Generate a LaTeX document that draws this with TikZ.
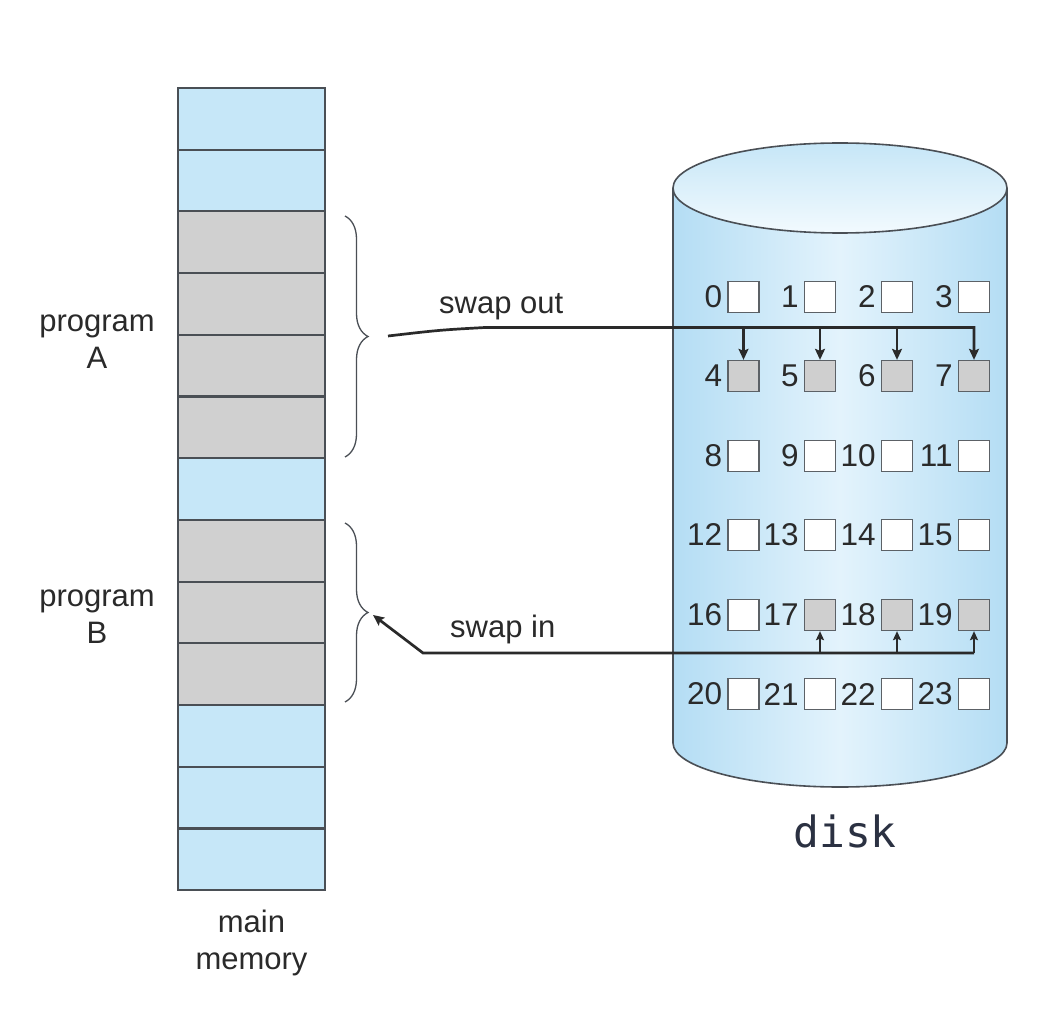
\documentclass[tikz,border=0pt]{standalone}
\usepackage{fontspec}
\setmainfont{Liberation Sans}
\newfontfamily\diskfont{DejaVu Sans Mono}
\usetikzlibrary{arrows.meta,decorations.pathreplacing,calc}
\definecolor{memblue}{HTML}{C6E7F8}
\definecolor{memgray}{HTML}{D0D0D0}
\definecolor{edge}{HTML}{4A4F55}
\definecolor{cylside}{HTML}{B4DDF4}
\definecolor{cylmid}{HTML}{E3F3FC}
\definecolor{cyltop}{HTML}{C6E6F7}
\definecolor{cyltopb}{HTML}{F2FAFE}
\definecolor{boxgray}{HTML}{CFCFCF}
\definecolor{ink}{HTML}{2A2A2A}
\definecolor{diskink}{HTML}{2B3142}
\begin{document}
\begin{tikzpicture}[x=1pt,y=-1pt,
  memcell/.style={minimum width=147pt,minimum height=61.7pt,inner sep=0pt},
  memedge/.style={draw=edge,line width=1.8pt},
  dbox/.style={draw=edge!90,line width=1.3pt,minimum width=31pt,minimum height=31pt,inner sep=0pt},
  dnum/.style={font=\fontsize{31.5}{36}\selectfont,text=ink,inner sep=0pt,anchor=east},
  lbl/.style={font=\fontsize{31}{37}\selectfont,text=ink,align=center,inner sep=0pt},
  cyl/.style={draw=edge,line width=1.6pt},
  bracestyle/.style={draw=edge,line width=1.3pt,decorate,decoration={brace,amplitude=23pt}},
  swapline/.style={draw=ink,line width=2.7pt},
  branch/.style={draw=ink,line width=2.1pt},
  bigtip/.style={-{Stealth[length=11pt,width=10pt,inset=2pt]}},
  smalltip/.style={-{Stealth[length=9pt,width=8pt,inset=1.5pt]}}
]
\useasboundingbox (0,0) rectangle (1060,1024);
\fill[white] (0,0) rectangle (1060,1024);

% main memory
\foreach \i/\c in {0/memblue,1/memblue,2/memgray,3/memgray,4/memgray,5/memgray,6/memblue,7/memgray,8/memgray,9/memgray,10/memblue,11/memblue,12/memblue}{
  \node[memcell,fill=\c] (m\i) at (251.5,{88+61.7*(\i+0.5)}) {};
}
\foreach \i in {0,...,12}{
  \draw[memedge] (m\i.north west) rectangle (m\i.south east);
}

% disk cylinder
\fill[left color=cylside,right color=cylside,middle color=cylmid]
  (673,188) -- (673,743) arc[start angle=180,end angle=360,x radius=167pt,y radius=44pt] -- (1007,188) -- cycle;
\draw[cyl] (673,188) -- (673,743) arc[start angle=180,end angle=360,x radius=167pt,y radius=44pt] -- (1007,188);
\draw[cyl,top color=cyltop,bottom color=cyltopb] (840,188) ellipse [x radius=167pt,y radius=45pt];

% disk blocks
\foreach \r/\yy in {0/297,1/376,2/456,3/535,4/615,5/694}{
  \foreach \cc/\xx in {0/743.5,1/820,2/897,3/974}{
    \pgfmathtruncatemacro{\n}{4*\r+\cc}
    \node[dbox,fill=white] (b\n) at (\xx,\yy) {};
    \node[dnum] (n\n) at ($(b\n.west)+(-5,0)$) {\n};
  }
}
\foreach \k in {4,5,6,7,17,18,19}{
  \node[dbox,fill=boxgray] at (b\k) {};
}

% braces
\draw[bracestyle] (345,216) -- (345,457);
\draw[bracestyle] (345,523) -- (345,702);

% labels
\node[lbl] (pa) at (97,342) {program\\A};
\node[lbl] (pb) at (97,617) {program\\B};
\node[lbl] (mm) at (251.5,943) {main\\memory};
\node[lbl,anchor=base west] (so) at (439,313) {swap out};
\node[lbl,anchor=base west] (si) at (450,637) {swap in};
\node[font=\diskfont\fontsize{43}{50}\selectfont,text=diskink,anchor=base,inner sep=0pt] (dk) at (845,847) {disk};

% swap out
\coordinate (soS) at (388,336);
\coordinate (soK) at (485,327.5);
\coordinate (so7) at (b7.north |- soK);
\draw[swapline,bigtip] (soS) .. controls (440,330) .. (soK) -- (so7) -- (b7.north);
\foreach \k in {4,5,6}{
  \draw[branch,bigtip] (b\k.north |- soK) -- (b\k.north);
}

% swap in
\coordinate (siK) at (423,653);
\coordinate (siT) at (373,615);
\coordinate (si19) at (b19.south |- siK);
\draw[swapline,bigtip] (si19) -- (siK) -- (siT);
\foreach \k in {17,18,19}{
  \draw[branch,smalltip] (b\k.south |- siK) -- (b\k.south);
}
\end{tikzpicture}
\end{document}
